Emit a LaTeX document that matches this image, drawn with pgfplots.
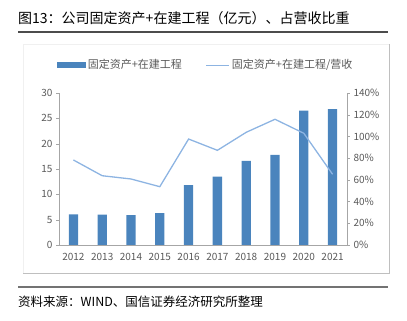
\documentclass[border=0pt]{standalone}
\usepackage{fontspec}
\setmainfont{Noto Sans CJK SC}
\usepackage{pgfplots}
\pgfplotsset{compat=1.18}
\definecolor{barblue}{HTML}{4A84BD}
\definecolor{lineblue}{HTML}{8DB4E2}
\definecolor{axgray}{HTML}{A6A6A6}
\definecolor{txtgray}{HTML}{595959}
\begin{document}
\begin{tikzpicture}
\useasboundingbox (0pt,0pt) rectangle (407pt,321pt);
\node[anchor=west,inner sep=0pt,font=\fontsize{14}{16}\selectfont] at (18pt,303pt) {图13：公司固定资产+在建工程（亿元）、占营收比重};
\draw[line width=1.2pt,color=black!70] (18pt,289pt) -- (388pt,289pt);
\draw[color=black!6] (23pt,48pt) rectangle (389pt,277pt);
\draw[color=black!25] (23pt,48pt) -- (389pt,48pt) -- (389pt,277pt);
\draw[line width=1.8pt,color=black!55] (18pt,34pt) -- (388pt,34pt);
\node[anchor=west,inner sep=0pt,font=\fontsize{12.5}{14}\selectfont] at (18pt,19pt) {资料来源：WIND、国信证券经济研究所整理};
\pgfplotsset{common/.style={
  at={(59pt,76pt)}, anchor=south west, scale only axis, width=288pt, height=152pt,
  xmin=-0.5, xmax=9.5,
  axis line style={axgray,-}, tick style={axgray}, tick align=outside,
  major tick length=3pt, minor tick length=3pt,
  ticklabel style={font=\fontsize{10}{12}\selectfont, text=txtgray},
  /pgf/number format/assume math mode=true,
}}
\begin{axis}[common,
  ymin=0, ymax=30, ytick={0,5,...,30},
  axis y line*=left, axis x line*=bottom,
  xtick={0,...,9}, xticklabels={2012,2013,2014,2015,2016,2017,2018,2019,2020,2021},
  x tick style={draw=none},
  minor xtick={-0.5,0.5,...,9.5}, minor x tick style={axgray},
  xticklabel style={yshift=-2pt},
]
\addplot[ybar, bar width=9.3pt, fill=barblue, draw=none] coordinates {
(0,6.05) (1,6.0) (2,5.9) (3,6.3) (4,11.8) (5,13.5) (6,16.6) (7,17.8) (8,26.5) (9,26.8)};
\end{axis}
\begin{axis}[common,
  ymin=0, ymax=140, ytick={0,20,...,140},
  yticklabel={\pgfmathprintnumber{\tick}\%},
  axis y line*=right, axis x line=none,
  legend columns=2,
  legend style={at={(0.51,1.184)}, anchor=center, draw=none, fill=none,
    font=\fontsize{11}{13}\selectfont, text=txtgray,
    /tikz/every even column/.append style={column sep=22pt}},
]
\addlegendimage{legend image code/.code={\fill[barblue] (0pt,-2.5pt) rectangle (28pt,2.5pt);}}
\addlegendentry{固定资产+在建工程}
\addplot[lineblue, line width=1.3pt, mark=none,
  legend image code/.code={\draw[lineblue, line width=1pt] (0pt,0pt) -- (23pt,0pt);}] coordinates {
(0,78.3) (1,63.8) (2,60.8) (3,53.7) (4,97.6) (5,87.2) (6,103.8) (7,115.8) (8,102.9) (9,65.1)};
\addlegendentry{固定资产+在建工程/营收}
\end{axis}
\end{tikzpicture}
\end{document}
